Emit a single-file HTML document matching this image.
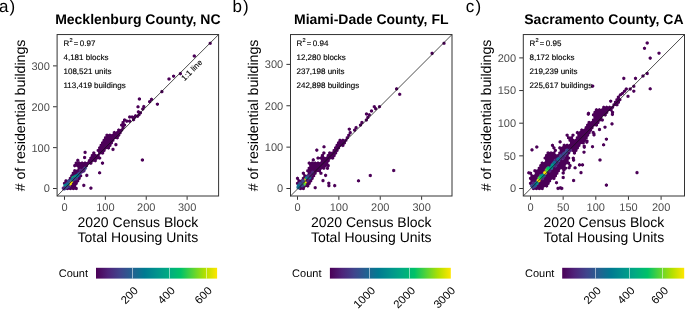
<!DOCTYPE html><html><head><meta charset="utf-8"><style>html,body{margin:0;padding:0;background:#fff;width:685px;height:309px;overflow:hidden}svg{display:block;will-change:transform}text{font-family:"Liberation Sans", sans-serif;text-rendering:geometricPrecision}</style></head><body>
<svg width="685" height="309" viewBox="0 0 685 309">
<defs>
<linearGradient id="g0" x1="0" x2="1" y1="0" y2="0">
<stop offset="0.00" stop-color="#4b0057"/>
<stop offset="0.10" stop-color="#4e237a"/>
<stop offset="0.20" stop-color="#40448c"/>
<stop offset="0.30" stop-color="#246191"/>
<stop offset="0.40" stop-color="#007a91"/>
<stop offset="0.50" stop-color="#00938d"/>
<stop offset="0.60" stop-color="#00ab82"/>
<stop offset="0.70" stop-color="#00c268"/>
<stop offset="0.80" stop-color="#57d436"/>
<stop offset="0.90" stop-color="#b2e000"/>
<stop offset="1.00" stop-color="#ffe600"/>
</linearGradient>
<linearGradient id="g1" x1="0" x2="1" y1="0" y2="0">
<stop offset="0.00" stop-color="#4b0057"/>
<stop offset="0.10" stop-color="#4e237a"/>
<stop offset="0.20" stop-color="#40448c"/>
<stop offset="0.30" stop-color="#246191"/>
<stop offset="0.40" stop-color="#007a91"/>
<stop offset="0.50" stop-color="#00938d"/>
<stop offset="0.60" stop-color="#00ab82"/>
<stop offset="0.70" stop-color="#00c268"/>
<stop offset="0.80" stop-color="#57d436"/>
<stop offset="0.90" stop-color="#b2e000"/>
<stop offset="1.00" stop-color="#ffe600"/>
</linearGradient>
<linearGradient id="g2" x1="0" x2="1" y1="0" y2="0">
<stop offset="0.00" stop-color="#4b0057"/>
<stop offset="0.10" stop-color="#4e237a"/>
<stop offset="0.20" stop-color="#40448c"/>
<stop offset="0.30" stop-color="#246191"/>
<stop offset="0.40" stop-color="#007a91"/>
<stop offset="0.50" stop-color="#00938d"/>
<stop offset="0.60" stop-color="#00ab82"/>
<stop offset="0.70" stop-color="#00c268"/>
<stop offset="0.80" stop-color="#57d436"/>
<stop offset="0.90" stop-color="#b2e000"/>
<stop offset="1.00" stop-color="#ffe600"/>
</linearGradient>
</defs>
<text x="-1.0" y="12" font-size="17" letter-spacing="1.1" fill="#000">a)</text>
<text x="137.85" y="23.6" font-size="14" font-weight="bold" text-anchor="middle" fill="#000">Mecklenburg County, NC</text>
<path d="M139.40,97.19L140.97,98.09L140.97,99.91L139.40,100.81L137.83,99.91L137.83,98.09ZM149.60,99.89L151.17,100.79L151.17,102.61L149.60,103.51L148.03,102.61L148.03,100.79ZM138.00,104.99L139.57,105.89L139.57,107.71L138.00,108.61L136.43,107.71L136.43,105.89ZM143.80,104.79L145.37,105.69L145.37,107.51L143.80,108.41L142.23,107.51L142.23,105.69ZM142.80,107.19L144.37,108.09L144.37,109.91L142.80,110.81L141.23,109.91L141.23,108.09ZM138.40,110.09L139.97,110.99L139.97,112.81L138.40,113.71L136.83,112.81L136.83,110.99ZM140.40,111.09L141.97,111.99L141.97,113.81L140.40,114.71L138.83,113.81L138.83,111.99ZM138.90,112.99L140.47,113.89L140.47,115.71L138.90,116.61L137.33,115.71L137.33,113.89ZM137.50,114.49L139.07,115.39L139.07,117.21L137.50,118.11L135.93,117.21L135.93,115.39ZM129.70,115.19L131.27,116.09L131.27,117.91L129.70,118.81L128.13,117.91L128.13,116.09ZM132.10,115.19L133.67,116.09L133.67,117.91L132.10,118.81L130.53,117.91L130.53,116.09ZM134.60,115.59L136.17,116.49L136.17,118.31L134.60,119.21L133.03,118.31L133.03,116.49ZM135.50,113.99L137.07,114.89L137.07,116.71L135.50,117.61L133.93,116.71L133.93,114.89ZM133.60,117.89L135.17,118.79L135.17,120.61L133.60,121.51L132.03,120.61L132.03,118.79ZM126.80,119.29L128.37,120.19L128.37,122.01L126.80,122.91L125.23,122.01L125.23,120.19ZM129.70,119.29L131.27,120.19L131.27,122.01L129.70,122.91L128.13,122.01L128.13,120.19ZM115.90,142.79L117.47,143.69L117.47,145.51L115.90,146.41L114.33,145.51L114.33,143.69ZM85.10,150.59L86.67,151.49L86.67,153.31L85.10,154.21L83.53,153.31L83.53,151.49ZM84.60,155.69L86.17,156.59L86.17,158.41L84.60,159.31L83.03,158.41L83.03,156.59ZM77.80,158.59L79.37,159.49L79.37,161.31L77.80,162.21L76.23,161.31L76.23,159.49ZM83.80,183.59L85.37,184.49L85.37,186.31L83.80,187.21L82.23,186.31L82.23,184.49ZM90.90,186.29L92.47,187.19L92.47,189.01L90.90,189.91L89.33,189.01L89.33,187.19ZM113.00,147.59L114.57,148.49L114.57,150.31L113.00,151.21L111.43,150.31L111.43,148.49ZM142.40,158.19L143.97,159.09L143.97,160.91L142.40,161.81L140.83,160.91L140.83,159.09ZM151.50,97.49L153.07,98.39L153.07,100.21L151.50,101.11L149.93,100.21L149.93,98.39ZM157.40,102.39L158.97,103.29L158.97,105.11L157.40,106.01L155.83,105.11L155.83,103.29ZM161.90,89.79L163.47,90.69L163.47,92.51L161.90,93.41L160.33,92.51L160.33,90.69ZM169.00,77.19L170.57,78.09L170.57,79.91L169.00,80.81L167.43,79.91L167.43,78.09ZM173.60,74.39L175.17,75.29L175.17,77.11L173.60,78.01L172.03,77.11L172.03,75.29ZM180.40,71.79L181.97,72.69L181.97,74.51L180.40,75.41L178.83,74.51L178.83,72.69ZM194.30,54.19L195.87,55.09L195.87,56.91L194.30,57.81L192.73,56.91L192.73,55.09ZM210.20,41.49L211.77,42.39L211.77,44.21L210.20,45.11L208.63,44.21L208.63,42.39ZM102.50,161.29L104.07,162.19L104.07,164.01L102.50,164.91L100.93,164.01L100.93,162.19ZM99.60,170.99L101.17,171.89L101.17,173.71L99.60,174.61L98.03,173.71L98.03,171.89ZM86.80,173.59L88.37,174.49L88.37,176.31L86.80,177.21L85.23,176.31L85.23,174.49Z" fill="#4b0057"/>
<path d="M64.50,186.69L66.07,187.59L66.07,189.41L64.50,190.31L62.93,189.41L62.93,187.59ZM70.36,181.62L71.93,182.52L71.93,184.33L70.36,185.24L68.79,184.33L68.79,182.52ZM71.83,179.08L73.39,179.98L73.39,181.79L71.83,182.70L70.26,181.79L70.26,179.98ZM77.69,174.00L79.25,174.91L79.25,176.72L77.69,177.62L76.12,176.72L76.12,174.91ZM79.15,171.47L80.72,172.37L80.72,174.18L79.15,175.09L77.58,174.18L77.58,172.37ZM85.01,166.39L86.58,167.30L86.58,169.11L85.01,170.01L83.44,169.11L83.44,167.30Z" fill="#3b4a8e" stroke="#3b4a8e" stroke-width="0.6"/>
<path d="M67.43,186.69L69.00,187.59L69.00,189.41L67.43,190.31L65.86,189.41L65.86,187.59ZM70.36,186.69L71.93,187.59L71.93,189.41L70.36,190.31L68.79,189.41L68.79,187.59ZM73.29,186.69L74.86,187.59L74.86,189.41L73.29,190.31L71.72,189.41L71.72,187.59ZM76.22,186.69L77.79,187.59L77.79,189.41L76.22,190.31L74.65,189.41L74.65,187.59ZM71.83,184.15L73.39,185.06L73.39,186.87L71.83,187.77L70.26,186.87L70.26,185.06ZM74.76,184.15L76.32,185.06L76.32,186.87L74.76,187.77L73.19,186.87L73.19,185.06ZM64.50,181.62L66.07,182.52L66.07,184.33L64.50,185.24L62.93,184.33L62.93,182.52ZM73.29,181.62L74.86,182.52L74.86,184.33L73.29,185.24L71.72,184.33L71.72,182.52ZM76.22,181.62L77.79,182.52L77.79,184.33L76.22,185.24L74.65,184.33L74.65,182.52ZM65.97,179.08L67.53,179.98L67.53,181.79L65.97,182.70L64.40,181.79L64.40,179.98ZM68.90,179.08L70.46,179.98L70.46,181.79L68.90,182.70L67.33,181.79L67.33,179.98ZM74.76,179.08L76.32,179.98L76.32,181.79L74.76,182.70L73.19,181.79L73.19,179.98ZM77.69,179.08L79.25,179.98L79.25,181.79L77.69,182.70L76.12,181.79L76.12,179.98ZM70.36,176.54L71.93,177.45L71.93,179.26L70.36,180.16L68.79,179.26L68.79,177.45ZM79.15,176.54L80.72,177.45L80.72,179.26L79.15,180.16L77.58,179.26L77.58,177.45ZM71.83,174.00L73.39,174.91L73.39,176.72L71.83,177.62L70.26,176.72L70.26,174.91ZM74.76,174.00L76.32,174.91L76.32,176.72L74.76,177.62L73.19,176.72L73.19,174.91ZM80.62,174.00L82.18,174.91L82.18,176.72L80.62,177.62L79.05,176.72L79.05,174.91ZM73.29,171.47L74.86,172.37L74.86,174.18L73.29,175.09L71.72,174.18L71.72,172.37ZM76.22,171.47L77.79,172.37L77.79,174.18L76.22,175.09L74.65,174.18L74.65,172.37ZM74.76,168.93L76.32,169.83L76.32,171.64L74.76,172.55L73.19,171.64L73.19,169.83ZM77.69,168.93L79.25,169.83L79.25,171.64L77.69,172.55L76.12,171.64L76.12,169.83ZM79.15,166.39L80.72,167.30L80.72,169.11L79.15,170.01L77.58,169.11L77.58,167.30ZM82.08,166.39L83.65,167.30L83.65,169.11L82.08,170.01L80.51,169.11L80.51,167.30ZM74.76,163.85L76.32,164.76L76.32,166.57L74.76,167.47L73.19,166.57L73.19,164.76ZM77.69,163.85L79.25,164.76L79.25,166.57L77.69,167.47L76.12,166.57L76.12,164.76ZM80.62,163.85L82.18,164.76L82.18,166.57L80.62,167.47L79.05,166.57L79.05,164.76ZM83.55,163.85L85.11,164.76L85.11,166.57L83.55,167.47L81.98,166.57L81.98,164.76ZM86.48,163.85L88.04,164.76L88.04,166.57L86.48,167.47L84.91,166.57L84.91,164.76ZM76.22,161.32L77.79,162.22L77.79,164.03L76.22,164.94L74.65,164.03L74.65,162.22ZM79.15,161.32L80.72,162.22L80.72,164.03L79.15,164.94L77.58,164.03L77.58,162.22ZM82.08,161.32L83.65,162.22L83.65,164.03L82.08,164.94L80.51,164.03L80.51,162.22ZM85.01,161.32L86.58,162.22L86.58,164.03L85.01,164.94L83.44,164.03L83.44,162.22ZM87.94,161.32L89.51,162.22L89.51,164.03L87.94,164.94L86.37,164.03L86.37,162.22ZM90.87,161.32L92.44,162.22L92.44,164.03L90.87,164.94L89.30,164.03L89.30,162.22ZM89.41,158.78L90.97,159.68L90.97,161.49L89.41,162.40L87.84,161.49L87.84,159.68ZM92.34,158.78L93.90,159.68L93.90,161.49L92.34,162.40L90.77,161.49L90.77,159.68ZM95.27,158.78L96.83,159.68L96.83,161.49L95.27,162.40L93.70,161.49L93.70,159.68ZM90.87,156.24L92.44,157.15L92.44,158.96L90.87,159.86L89.30,158.96L89.30,157.15ZM93.80,156.24L95.37,157.15L95.37,158.96L93.80,159.86L92.23,158.96L92.23,157.15ZM96.73,156.24L98.30,157.15L98.30,158.96L96.73,159.86L95.16,158.96L95.16,157.15ZM99.66,156.24L101.23,157.15L101.23,158.96L99.66,159.86L98.09,158.96L98.09,157.15ZM92.34,153.70L93.90,154.61L93.90,156.42L92.34,157.32L90.77,156.42L90.77,154.61ZM95.27,153.70L96.83,154.61L96.83,156.42L95.27,157.32L93.70,156.42L93.70,154.61ZM98.20,153.70L99.76,154.61L99.76,156.42L98.20,157.32L96.63,156.42L96.63,154.61ZM93.80,151.17L95.37,152.07L95.37,153.88L93.80,154.79L92.23,153.88L92.23,152.07ZM99.66,151.17L101.23,152.07L101.23,153.88L99.66,154.79L98.09,153.88L98.09,152.07ZM102.59,151.17L104.16,152.07L104.16,153.88L102.59,154.79L101.02,153.88L101.02,152.07ZM98.20,148.63L99.76,149.53L99.76,151.34L98.20,152.25L96.63,151.34L96.63,149.53ZM101.12,148.63L102.69,149.53L102.69,151.34L101.12,152.25L99.56,151.34L99.56,149.53ZM104.06,148.63L105.62,149.53L105.62,151.34L104.06,152.25L102.49,151.34L102.49,149.53ZM99.66,146.09L101.23,147.00L101.23,148.81L99.66,149.71L98.09,148.81L98.09,147.00ZM102.59,146.09L104.16,147.00L104.16,148.81L102.59,149.71L101.02,148.81L101.02,147.00ZM105.52,146.09L107.09,147.00L107.09,148.81L105.52,149.71L103.95,148.81L103.95,147.00ZM108.45,146.09L110.02,147.00L110.02,148.81L108.45,149.71L106.88,148.81L106.88,147.00ZM101.12,143.55L102.69,144.46L102.69,146.27L101.12,147.17L99.56,146.27L99.56,144.46ZM104.06,143.55L105.62,144.46L105.62,146.27L104.06,147.17L102.49,146.27L102.49,144.46ZM106.99,143.55L108.55,144.46L108.55,146.27L106.99,147.17L105.42,146.27L105.42,144.46ZM109.92,143.55L111.48,144.46L111.48,146.27L109.92,147.17L108.35,146.27L108.35,144.46ZM102.59,141.02L104.16,141.92L104.16,143.73L102.59,144.64L101.02,143.73L101.02,141.92ZM105.52,141.02L107.09,141.92L107.09,143.73L105.52,144.64L103.95,143.73L103.95,141.92ZM108.45,141.02L110.02,141.92L110.02,143.73L108.45,144.64L106.88,143.73L106.88,141.92ZM111.38,141.02L112.95,141.92L112.95,143.73L111.38,144.64L109.81,143.73L109.81,141.92ZM104.06,138.48L105.62,139.38L105.62,141.19L104.06,142.10L102.49,141.19L102.49,139.38ZM106.99,138.48L108.55,139.38L108.55,141.19L106.99,142.10L105.42,141.19L105.42,139.38ZM109.92,138.48L111.48,139.38L111.48,141.19L109.92,142.10L108.35,141.19L108.35,139.38ZM112.84,138.48L114.41,139.38L114.41,141.19L112.84,142.10L111.28,141.19L111.28,139.38ZM105.52,135.94L107.09,136.85L107.09,138.66L105.52,139.56L103.95,138.66L103.95,136.85ZM108.45,135.94L110.02,136.85L110.02,138.66L108.45,139.56L106.88,138.66L106.88,136.85ZM111.38,135.94L112.95,136.85L112.95,138.66L111.38,139.56L109.81,138.66L109.81,136.85ZM114.31,135.94L115.88,136.85L115.88,138.66L114.31,139.56L112.74,138.66L112.74,136.85ZM117.24,135.94L118.81,136.85L118.81,138.66L117.24,139.56L115.67,138.66L115.67,136.85ZM106.99,133.40L108.55,134.31L108.55,136.12L106.99,137.02L105.42,136.12L105.42,134.31ZM109.92,133.40L111.48,134.31L111.48,136.12L109.92,137.02L108.35,136.12L108.35,134.31ZM112.84,133.40L114.41,134.31L114.41,136.12L112.84,137.02L111.28,136.12L111.28,134.31ZM115.78,133.40L117.34,134.31L117.34,136.12L115.78,137.02L114.21,136.12L114.21,134.31ZM118.71,133.40L120.27,134.31L120.27,136.12L118.71,137.02L117.14,136.12L117.14,134.31ZM114.31,130.87L115.88,131.77L115.88,133.58L114.31,134.49L112.74,133.58L112.74,131.77ZM117.24,130.87L118.81,131.77L118.81,133.58L117.24,134.49L115.67,133.58L115.67,131.77ZM120.17,130.87L121.74,131.77L121.74,133.58L120.17,134.49L118.60,133.58L118.60,131.77ZM118.71,128.33L120.27,129.23L120.27,131.04L118.71,131.95L117.14,131.04L117.14,129.23ZM121.64,128.33L123.20,129.23L123.20,131.04L121.64,131.95L120.07,131.04L120.07,129.23ZM123.10,125.79L124.67,126.70L124.67,128.51L123.10,129.41L121.53,128.51L121.53,126.70ZM121.64,123.25L123.20,124.16L123.20,125.97L121.64,126.87L120.07,125.97L120.07,124.16ZM124.56,123.25L126.13,124.16L126.13,125.97L124.56,126.87L123.00,125.97L123.00,124.16ZM123.10,120.72L124.67,121.62L124.67,123.43L123.10,124.34L121.53,123.43L121.53,121.62ZM124.56,118.18L126.13,119.08L126.13,120.89L124.56,121.80L123.00,120.89L123.00,119.08Z" fill="#4b0057"/>
<path d="M65.97,184.15L67.53,185.06L67.53,186.87L65.97,187.77L64.40,186.87L64.40,185.06ZM68.90,184.15L70.46,185.06L70.46,186.87L68.90,187.77L67.33,186.87L67.33,185.06ZM67.43,181.62L69.00,182.52L69.00,184.33L67.43,185.24L65.86,184.33L65.86,182.52ZM73.29,176.54L74.86,177.45L74.86,179.26L73.29,180.16L71.72,179.26L71.72,177.45ZM76.22,176.54L77.79,177.45L77.79,179.26L76.22,180.16L74.65,179.26L74.65,177.45ZM80.62,168.93L82.18,169.83L82.18,171.64L80.62,172.55L79.05,171.64L79.05,169.83ZM83.55,168.93L85.11,169.83L85.11,171.64L83.55,172.55L81.98,171.64L81.98,169.83Z" fill="#4e2279" stroke="#4e2279" stroke-width="0.6"/>
<path d="M71.10,179.69L72.67,180.59L72.67,182.41L71.10,183.31L69.53,182.41L69.53,180.59Z" fill="#ffe600" stroke="#ffe600" stroke-width="0.5"/>
<path d="M70.00,181.79L71.57,182.69L71.57,184.51L70.00,185.41L68.43,184.51L68.43,182.69Z" fill="#ffe600" stroke="#ffe600" stroke-width="0.5"/>
<path d="M73.20,175.99L74.77,176.89L74.77,178.71L73.20,179.61L71.63,178.71L71.63,176.89Z" fill="#00c268" stroke="#00c268" stroke-width="0.5"/>
<path d="M75.30,174.79L76.87,175.69L76.87,177.51L75.30,178.41L73.73,177.51L73.73,175.69Z" fill="#00948d" stroke="#00948d" stroke-width="0.5"/>
<path d="M77.60,173.59L79.17,174.49L79.17,176.31L77.60,177.21L76.03,176.31L76.03,174.49Z" fill="#007a91" stroke="#007a91" stroke-width="0.5"/>
<path d="M65.30,183.79L66.87,184.69L66.87,186.51L65.30,187.41L63.73,186.51L63.73,184.69Z" fill="#00948d" stroke="#00948d" stroke-width="0.5"/>
<path d="M67.70,182.29L69.27,183.19L69.27,185.01L67.70,185.91L66.13,185.01L66.13,183.19Z" fill="#136a92" stroke="#136a92" stroke-width="0.5"/>
<path d="M68.90,179.39L70.47,180.29L70.47,182.11L68.90,183.01L67.33,182.11L67.33,180.29Z" fill="#3b4a8e" stroke="#3b4a8e" stroke-width="0.5"/>
<path d="M72.20,177.79L73.77,178.69L73.77,180.51L72.20,181.41L70.63,180.51L70.63,178.69Z" fill="#136a92" stroke="#136a92" stroke-width="0.5"/>
<path d="M79.50,171.79L81.07,172.69L81.07,174.51L79.50,175.41L77.93,174.51L77.93,172.69Z" fill="#3b4a8e" stroke="#3b4a8e" stroke-width="0.5"/>
<path d="M81.50,169.99L83.07,170.89L83.07,172.71L81.50,173.61L79.93,172.71L79.93,170.89Z" fill="#4e2279" stroke="#4e2279" stroke-width="0.5"/>
<path d="M66.50,185.39L68.07,186.29L68.07,188.11L66.50,189.01L64.93,188.11L64.93,186.29Z" fill="#3b4a8e" stroke="#3b4a8e" stroke-width="0.5"/>
<path d="M63.60,186.39L65.17,187.29L65.17,189.11L63.60,190.01L62.03,189.11L62.03,187.29Z" fill="#4e2279" stroke="#4e2279" stroke-width="0.5"/>
<path d="M74.50,176.99L76.07,177.89L76.07,179.71L74.50,180.61L72.93,179.71L72.93,177.89Z" fill="#3b4a8e" stroke="#3b4a8e" stroke-width="0.5"/>
<path d="M83.50,167.99L85.07,168.89L85.07,170.71L83.50,171.61L81.93,170.71L81.93,168.89Z" fill="#4e2279" stroke="#4e2279" stroke-width="0.5"/>
<line x1="57.1" y1="196.0" x2="218.6" y2="34.55" stroke="#111" stroke-width="0.75"/>
<rect x="57.1" y="34.55" width="161.50" height="161.45" fill="none" stroke="#333" stroke-width="1"/>
<line x1="53.00" y1="188.50" x2="56.80" y2="188.50" stroke="#333" stroke-width="1"/>
<line x1="64.50" y1="196.3" x2="64.50" y2="199.8" stroke="#333" stroke-width="1"/>
<text x="49.80" y="192.40" font-size="11" fill="#4D4D4D" text-anchor="end">0</text>
<text x="64.50" y="211" font-size="11" fill="#4D4D4D" text-anchor="middle">0</text>
<line x1="53.00" y1="147.63" x2="56.80" y2="147.63" stroke="#333" stroke-width="1"/>
<line x1="105.37" y1="196.3" x2="105.37" y2="199.8" stroke="#333" stroke-width="1"/>
<text x="49.80" y="151.53" font-size="11" fill="#4D4D4D" text-anchor="end">100</text>
<text x="105.37" y="211" font-size="11" fill="#4D4D4D" text-anchor="middle">100</text>
<line x1="53.00" y1="106.76" x2="56.80" y2="106.76" stroke="#333" stroke-width="1"/>
<line x1="146.24" y1="196.3" x2="146.24" y2="199.8" stroke="#333" stroke-width="1"/>
<text x="49.80" y="110.66" font-size="11" fill="#4D4D4D" text-anchor="end">200</text>
<text x="146.24" y="211" font-size="11" fill="#4D4D4D" text-anchor="middle">200</text>
<line x1="53.00" y1="65.89" x2="56.80" y2="65.89" stroke="#333" stroke-width="1"/>
<line x1="187.11" y1="196.3" x2="187.11" y2="199.8" stroke="#333" stroke-width="1"/>
<text x="49.80" y="69.79" font-size="11" fill="#4D4D4D" text-anchor="end">300</text>
<text x="187.11" y="211" font-size="11" fill="#4D4D4D" text-anchor="middle">300</text>
<text x="137.85" y="227.4" font-size="14" text-anchor="middle" fill="#000">2020 Census Block</text>
<text x="137.85" y="242.1" font-size="14" text-anchor="middle" fill="#000">Total Housing Units</text>
<text transform="translate(24.70,115.48) rotate(-90)" x="0" y="0" font-size="14.15" text-anchor="middle" fill="#000"># of residential buildings</text>
<text x="63.5" y="45.5" font-size="8" fill="#000" stroke="#000" stroke-width="0.15">R<tspan x="69.40" font-size="5.6" dy="-3.6">2</tspan><tspan x="73.80" dy="3.6" font-size="7.6">=</tspan><tspan x="79.80">0.97</tspan></text>
<text x="63.5" y="59.75" font-size="8" fill="#000" stroke="#000" stroke-width="0.15">4,181 blocks</text>
<text x="63.5" y="74.0" font-size="8" fill="#000" stroke="#000" stroke-width="0.15">108,521 units</text>
<text x="63.5" y="88.25" font-size="8" fill="#000" stroke="#000" stroke-width="0.15">113,419 buildings</text>
<text transform="translate(184.6,81.2) rotate(-45)" font-size="8" fill="#000" stroke="#000" stroke-width="0.12">1:1 line</text>
<text x="58.7" y="276.7" font-size="11" fill="#000">Count</text>
<rect x="96" y="267.8" width="121.10" height="10.8" fill="url(#g0)"/>
<line x1="132.50" y1="267.8" x2="132.50" y2="278.6" stroke="#fff" stroke-width="0.9" opacity="0.6"/>
<text transform="translate(138.74,291.3) rotate(-45)" font-size="11.3" fill="#000" text-anchor="end">200</text>
<line x1="169.50" y1="267.8" x2="169.50" y2="278.6" stroke="#fff" stroke-width="0.9" opacity="0.6"/>
<text transform="translate(175.66,291.3) rotate(-45)" font-size="11.3" fill="#000" text-anchor="end">400</text>
<line x1="206.50" y1="267.8" x2="206.50" y2="278.6" stroke="#fff" stroke-width="0.9" opacity="0.6"/>
<text transform="translate(212.58,291.3) rotate(-45)" font-size="11.3" fill="#000" text-anchor="end">600</text>
<text x="232.4" y="12" font-size="17" letter-spacing="1.1" fill="#000">b)</text>
<text x="371.25" y="23.6" font-size="14" font-weight="bold" text-anchor="middle" fill="#000">Miami-Dade County, FL</text>
<path d="M313.30,158.09L314.87,158.99L314.87,160.81L313.30,161.71L311.73,160.81L311.73,158.99ZM324.00,144.99L325.57,145.89L325.57,147.71L324.00,148.61L322.43,147.71L322.43,145.89ZM316.80,148.29L318.37,149.19L318.37,151.01L316.80,151.91L315.23,151.01L315.23,149.19ZM327.50,166.49L329.07,167.39L329.07,169.21L327.50,170.11L325.93,169.21L325.93,167.39ZM323.00,178.79L324.57,179.69L324.57,181.51L323.00,182.41L321.43,181.51L321.43,179.69ZM325.60,173.59L327.17,174.49L327.17,176.31L325.60,177.21L324.03,176.31L324.03,174.49ZM328.80,181.39L330.37,182.29L330.37,184.11L328.80,185.01L327.23,184.11L327.23,182.29ZM315.20,185.89L316.77,186.79L316.77,188.61L315.20,189.51L313.63,188.61L313.63,186.79ZM328.90,183.79L330.47,184.69L330.47,186.51L328.90,187.41L327.33,186.51L327.33,184.69ZM334.70,183.79L336.27,184.69L336.27,186.51L334.70,187.41L333.13,186.51L333.13,184.69ZM358.50,178.99L360.07,179.89L360.07,181.71L358.50,182.61L356.93,181.71L356.93,179.89ZM370.30,173.69L371.87,174.59L371.87,176.41L370.30,177.31L368.73,176.41L368.73,174.59ZM393.70,168.69L395.27,169.59L395.27,171.41L393.70,172.31L392.13,171.41L392.13,169.59ZM349.30,127.39L350.87,128.29L350.87,130.11L349.30,131.01L347.73,130.11L347.73,128.29ZM374.30,104.89L375.87,105.79L375.87,107.61L374.30,108.51L372.73,107.61L372.73,105.79ZM375.60,106.79L377.17,107.69L377.17,109.51L375.60,110.41L374.03,109.51L374.03,107.69ZM379.50,104.89L381.07,105.79L381.07,107.61L379.50,108.51L377.93,107.61L377.93,105.79ZM396.60,87.09L398.17,87.99L398.17,89.81L396.60,90.71L395.03,89.81L395.03,87.99ZM399.70,92.49L401.27,93.39L401.27,95.21L399.70,96.11L398.13,95.21L398.13,93.39ZM432.10,51.59L433.67,52.49L433.67,54.31L432.10,55.21L430.53,54.31L430.53,52.49ZM444.00,41.49L445.57,42.39L445.57,44.21L444.00,45.11L442.43,44.21L442.43,42.39ZM366.50,112.19L368.07,113.09L368.07,114.91L366.50,115.81L364.93,114.91L364.93,113.09ZM371.50,109.19L373.07,110.09L373.07,111.91L371.50,112.81L369.93,111.91L369.93,110.09Z" fill="#4b0057"/>
<path d="M300.43,186.69L302.00,187.59L302.00,189.41L300.43,190.31L298.86,189.41L298.86,187.59ZM303.36,186.69L304.93,187.59L304.93,189.41L303.36,190.31L301.79,189.41L301.79,187.59ZM298.96,184.15L300.53,185.06L300.53,186.87L298.96,187.77L297.40,186.87L297.40,185.06ZM301.89,184.15L303.46,185.06L303.46,186.87L301.89,187.77L300.33,186.87L300.33,185.06ZM304.82,184.15L306.39,185.06L306.39,186.87L304.82,187.77L303.26,186.87L303.26,185.06ZM307.75,184.15L309.32,185.06L309.32,186.87L307.75,187.77L306.19,186.87L306.19,185.06ZM297.50,181.62L299.07,182.52L299.07,184.33L297.50,185.24L295.93,184.33L295.93,182.52ZM300.43,181.62L302.00,182.52L302.00,184.33L300.43,185.24L298.86,184.33L298.86,182.52ZM303.36,181.62L304.93,182.52L304.93,184.33L303.36,185.24L301.79,184.33L301.79,182.52ZM306.29,181.62L307.86,182.52L307.86,184.33L306.29,185.24L304.72,184.33L304.72,182.52ZM309.22,181.62L310.79,182.52L310.79,184.33L309.22,185.24L307.65,184.33L307.65,182.52ZM298.96,179.08L300.53,179.98L300.53,181.79L298.96,182.70L297.40,181.79L297.40,179.98ZM301.89,179.08L303.46,179.98L303.46,181.79L301.89,182.70L300.33,181.79L300.33,179.98ZM304.82,179.08L306.39,179.98L306.39,181.79L304.82,182.70L303.26,181.79L303.26,179.98ZM307.75,179.08L309.32,179.98L309.32,181.79L307.75,182.70L306.19,181.79L306.19,179.98ZM310.69,179.08L312.25,179.98L312.25,181.79L310.69,182.70L309.12,181.79L309.12,179.98ZM297.50,176.54L299.07,177.45L299.07,179.26L297.50,180.16L295.93,179.26L295.93,177.45ZM303.36,176.54L304.93,177.45L304.93,179.26L303.36,180.16L301.79,179.26L301.79,177.45ZM306.29,176.54L307.86,177.45L307.86,179.26L306.29,180.16L304.72,179.26L304.72,177.45ZM309.22,176.54L310.79,177.45L310.79,179.26L309.22,180.16L307.65,179.26L307.65,177.45ZM312.15,176.54L313.72,177.45L313.72,179.26L312.15,180.16L310.58,179.26L310.58,177.45ZM304.82,174.00L306.39,174.91L306.39,176.72L304.82,177.62L303.26,176.72L303.26,174.91ZM307.75,174.00L309.32,174.91L309.32,176.72L307.75,177.62L306.19,176.72L306.19,174.91ZM310.69,174.00L312.25,174.91L312.25,176.72L310.69,177.62L309.12,176.72L309.12,174.91ZM313.61,174.00L315.18,174.91L315.18,176.72L313.61,177.62L312.05,176.72L312.05,174.91ZM303.36,171.47L304.93,172.37L304.93,174.18L303.36,175.09L301.79,174.18L301.79,172.37ZM309.22,171.47L310.79,172.37L310.79,174.18L309.22,175.09L307.65,174.18L307.65,172.37ZM312.15,171.47L313.72,172.37L313.72,174.18L312.15,175.09L310.58,174.18L310.58,172.37ZM315.08,171.47L316.65,172.37L316.65,174.18L315.08,175.09L313.51,174.18L313.51,172.37ZM320.94,171.47L322.51,172.37L322.51,174.18L320.94,175.09L319.37,174.18L319.37,172.37ZM307.75,168.93L309.32,169.83L309.32,171.64L307.75,172.55L306.19,171.64L306.19,169.83ZM310.69,168.93L312.25,169.83L312.25,171.64L310.69,172.55L309.12,171.64L309.12,169.83ZM313.61,168.93L315.18,169.83L315.18,171.64L313.61,172.55L312.05,171.64L312.05,169.83ZM316.54,168.93L318.11,169.83L318.11,171.64L316.54,172.55L314.98,171.64L314.98,169.83ZM319.47,168.93L321.04,169.83L321.04,171.64L319.47,172.55L317.91,171.64L317.91,169.83ZM309.22,166.39L310.79,167.30L310.79,169.11L309.22,170.01L307.65,169.11L307.65,167.30ZM312.15,166.39L313.72,167.30L313.72,169.11L312.15,170.01L310.58,169.11L310.58,167.30ZM315.08,166.39L316.65,167.30L316.65,169.11L315.08,170.01L313.51,169.11L313.51,167.30ZM318.01,166.39L319.58,167.30L319.58,169.11L318.01,170.01L316.44,169.11L316.44,167.30ZM320.94,166.39L322.51,167.30L322.51,169.11L320.94,170.01L319.37,169.11L319.37,167.30ZM323.87,166.39L325.44,167.30L325.44,169.11L323.87,170.01L322.30,169.11L322.30,167.30ZM310.69,163.85L312.25,164.76L312.25,166.57L310.69,167.47L309.12,166.57L309.12,164.76ZM313.61,163.85L315.18,164.76L315.18,166.57L313.61,167.47L312.05,166.57L312.05,164.76ZM316.54,163.85L318.11,164.76L318.11,166.57L316.54,167.47L314.98,166.57L314.98,164.76ZM319.47,163.85L321.04,164.76L321.04,166.57L319.47,167.47L317.91,166.57L317.91,164.76ZM322.40,163.85L323.97,164.76L323.97,166.57L322.40,167.47L320.84,166.57L320.84,164.76ZM325.33,163.85L326.90,164.76L326.90,166.57L325.33,167.47L323.77,166.57L323.77,164.76ZM328.26,163.85L329.83,164.76L329.83,166.57L328.26,167.47L326.70,166.57L326.70,164.76ZM309.22,161.32L310.79,162.22L310.79,164.03L309.22,164.94L307.65,164.03L307.65,162.22ZM312.15,161.32L313.72,162.22L313.72,164.03L312.15,164.94L310.58,164.03L310.58,162.22ZM315.08,161.32L316.65,162.22L316.65,164.03L315.08,164.94L313.51,164.03L313.51,162.22ZM318.01,161.32L319.58,162.22L319.58,164.03L318.01,164.94L316.44,164.03L316.44,162.22ZM320.94,161.32L322.51,162.22L322.51,164.03L320.94,164.94L319.37,164.03L319.37,162.22ZM323.87,161.32L325.44,162.22L325.44,164.03L323.87,164.94L322.30,164.03L322.30,162.22ZM326.80,161.32L328.37,162.22L328.37,164.03L326.80,164.94L325.23,164.03L325.23,162.22ZM322.40,158.78L323.97,159.68L323.97,161.49L322.40,162.40L320.84,161.49L320.84,159.68ZM325.33,158.78L326.90,159.68L326.90,161.49L325.33,162.40L323.77,161.49L323.77,159.68ZM328.26,158.78L329.83,159.68L329.83,161.49L328.26,162.40L326.70,161.49L326.70,159.68ZM318.01,156.24L319.58,157.15L319.58,158.96L318.01,159.86L316.44,158.96L316.44,157.15ZM320.94,156.24L322.51,157.15L322.51,158.96L320.94,159.86L319.37,158.96L319.37,157.15ZM323.87,156.24L325.44,157.15L325.44,158.96L323.87,159.86L322.30,158.96L322.30,157.15ZM326.80,156.24L328.37,157.15L328.37,158.96L326.80,159.86L325.23,158.96L325.23,157.15ZM329.73,156.24L331.30,157.15L331.30,158.96L329.73,159.86L328.16,158.96L328.16,157.15ZM332.66,156.24L334.23,157.15L334.23,158.96L332.66,159.86L331.09,158.96L331.09,157.15ZM322.40,153.70L323.97,154.61L323.97,156.42L322.40,157.32L320.84,156.42L320.84,154.61ZM328.26,153.70L329.83,154.61L329.83,156.42L328.26,157.32L326.70,156.42L326.70,154.61ZM331.19,153.70L332.76,154.61L332.76,156.42L331.19,157.32L329.63,156.42L329.63,154.61ZM334.12,153.70L335.69,154.61L335.69,156.42L334.12,157.32L332.56,156.42L332.56,154.61ZM323.87,151.17L325.44,152.07L325.44,153.88L323.87,154.79L322.30,153.88L322.30,152.07ZM329.73,151.17L331.30,152.07L331.30,153.88L329.73,154.79L328.16,153.88L328.16,152.07ZM332.66,151.17L334.23,152.07L334.23,153.88L332.66,154.79L331.09,153.88L331.09,152.07ZM335.59,151.17L337.16,152.07L337.16,153.88L335.59,154.79L334.02,153.88L334.02,152.07ZM334.12,148.63L335.69,149.53L335.69,151.34L334.12,152.25L332.56,151.34L332.56,149.53ZM337.06,148.63L338.62,149.53L338.62,151.34L337.06,152.25L335.49,151.34L335.49,149.53ZM335.59,146.09L337.16,147.00L337.16,148.81L335.59,149.71L334.02,148.81L334.02,147.00ZM338.52,146.09L340.09,147.00L340.09,148.81L338.52,149.71L336.95,148.81L336.95,147.00ZM337.06,143.55L338.62,144.46L338.62,146.27L337.06,147.17L335.49,146.27L335.49,144.46ZM339.98,143.55L341.55,144.46L341.55,146.27L339.98,147.17L338.42,146.27L338.42,144.46ZM342.91,143.55L344.48,144.46L344.48,146.27L342.91,147.17L341.35,146.27L341.35,144.46ZM338.52,141.02L340.09,141.92L340.09,143.73L338.52,144.64L336.95,143.73L336.95,141.92ZM341.45,141.02L343.02,141.92L343.02,143.73L341.45,144.64L339.88,143.73L339.88,141.92ZM344.38,141.02L345.95,141.92L345.95,143.73L344.38,144.64L342.81,143.73L342.81,141.92ZM339.98,138.48L341.55,139.38L341.55,141.19L339.98,142.10L338.42,141.19L338.42,139.38ZM342.91,138.48L344.48,139.38L344.48,141.19L342.91,142.10L341.35,141.19L341.35,139.38ZM345.84,138.48L347.41,139.38L347.41,141.19L345.84,142.10L344.28,141.19L344.28,139.38ZM347.31,135.94L348.88,136.85L348.88,138.66L347.31,139.56L345.74,138.66L345.74,136.85ZM348.77,133.40L350.34,134.31L350.34,136.12L348.77,137.02L347.21,136.12L347.21,134.31ZM350.24,130.87L351.81,131.77L351.81,133.58L350.24,134.49L348.67,133.58L348.67,131.77ZM354.63,128.33L356.20,129.23L356.20,131.04L354.63,131.95L353.07,131.04L353.07,129.23ZM356.10,125.79L357.67,126.70L357.67,128.51L356.10,129.41L354.53,128.51L354.53,126.70ZM360.49,123.25L362.06,124.16L362.06,125.97L360.49,126.87L358.93,125.97L358.93,124.16ZM361.96,120.72L363.53,121.62L363.53,123.43L361.96,124.34L360.39,123.43L360.39,121.62ZM366.35,118.18L367.92,119.08L367.92,120.89L366.35,121.80L364.79,120.89L364.79,119.08ZM367.82,115.64L369.39,116.55L369.39,118.36L367.82,119.26L366.25,118.36L366.25,116.55ZM369.28,113.10L370.85,114.01L370.85,115.82L369.28,116.72L367.72,115.82L367.72,114.01Z" fill="#4b0057"/>
<path d="M306.00,177.79L307.57,178.69L307.57,180.51L306.00,181.41L304.43,180.51L304.43,178.69Z" fill="#ffe600" stroke="#ffe600" stroke-width="0.5"/>
<path d="M305.00,180.19L306.57,181.09L306.57,182.91L305.00,183.81L303.43,182.91L303.43,181.09Z" fill="#ffe600" stroke="#ffe600" stroke-width="0.5"/>
<path d="M304.10,182.39L305.67,183.29L305.67,185.11L304.10,186.01L302.53,185.11L302.53,183.29Z" fill="#57d436" stroke="#57d436" stroke-width="0.5"/>
<path d="M306.80,175.99L308.37,176.89L308.37,178.71L306.80,179.61L305.23,178.71L305.23,176.89Z" fill="#00948d" stroke="#00948d" stroke-width="0.5"/>
<path d="M298.70,183.69L300.27,184.59L300.27,186.41L298.70,187.31L297.13,186.41L297.13,184.59Z" fill="#007a91" stroke="#007a91" stroke-width="0.5"/>
<path d="M309.50,175.99L311.07,176.89L311.07,178.71L309.50,179.61L307.93,178.71L307.93,176.89Z" fill="#136a92" stroke="#136a92" stroke-width="0.5"/>
<path d="M300.20,181.69L301.77,182.59L301.77,184.41L300.20,185.31L298.63,184.41L298.63,182.59Z" fill="#3b4a8e" stroke="#3b4a8e" stroke-width="0.5"/>
<path d="M302.20,183.69L303.77,184.59L303.77,186.41L302.20,187.31L300.63,186.41L300.63,184.59Z" fill="#3b4a8e" stroke="#3b4a8e" stroke-width="0.5"/>
<path d="M308.40,174.79L309.97,175.69L309.97,177.51L308.40,178.41L306.83,177.51L306.83,175.69Z" fill="#40448c" stroke="#40448c" stroke-width="0.5"/>
<path d="M310.70,173.39L312.27,174.29L312.27,176.11L310.70,177.01L309.13,176.11L309.13,174.29Z" fill="#4e2279" stroke="#4e2279" stroke-width="0.5"/>
<path d="M298.30,185.59L299.87,186.49L299.87,188.31L298.30,189.21L296.73,188.31L296.73,186.49Z" fill="#136a92" stroke="#136a92" stroke-width="0.5"/>
<path d="M303.00,179.19L304.57,180.09L304.57,181.91L303.00,182.81L301.43,181.91L301.43,180.09Z" fill="#40448c" stroke="#40448c" stroke-width="0.5"/>
<path d="M312.50,170.69L314.07,171.59L314.07,173.41L312.50,174.31L310.93,173.41L310.93,171.59Z" fill="#4e2279" stroke="#4e2279" stroke-width="0.5"/>
<path d="M307.50,178.69L309.07,179.59L309.07,181.41L307.50,182.31L305.93,181.41L305.93,179.59Z" fill="#4e2279" stroke="#4e2279" stroke-width="0.5"/>
<line x1="290.5" y1="196.0" x2="452.0" y2="34.55" stroke="#111" stroke-width="0.75"/>
<rect x="290.5" y="34.55" width="161.50" height="161.45" fill="none" stroke="#333" stroke-width="1"/>
<line x1="286.40" y1="188.50" x2="290.20" y2="188.50" stroke="#333" stroke-width="1"/>
<line x1="297.50" y1="196.3" x2="297.50" y2="199.8" stroke="#333" stroke-width="1"/>
<text x="283.20" y="192.40" font-size="11" fill="#4D4D4D" text-anchor="end">0</text>
<text x="297.50" y="211" font-size="11" fill="#4D4D4D" text-anchor="middle">0</text>
<line x1="286.40" y1="147.13" x2="290.20" y2="147.13" stroke="#333" stroke-width="1"/>
<line x1="338.87" y1="196.3" x2="338.87" y2="199.8" stroke="#333" stroke-width="1"/>
<text x="283.20" y="151.03" font-size="11" fill="#4D4D4D" text-anchor="end">100</text>
<text x="338.87" y="211" font-size="11" fill="#4D4D4D" text-anchor="middle">100</text>
<line x1="286.40" y1="105.76" x2="290.20" y2="105.76" stroke="#333" stroke-width="1"/>
<line x1="380.24" y1="196.3" x2="380.24" y2="199.8" stroke="#333" stroke-width="1"/>
<text x="283.20" y="109.66" font-size="11" fill="#4D4D4D" text-anchor="end">200</text>
<text x="380.24" y="211" font-size="11" fill="#4D4D4D" text-anchor="middle">200</text>
<line x1="286.40" y1="64.39" x2="290.20" y2="64.39" stroke="#333" stroke-width="1"/>
<line x1="421.61" y1="196.3" x2="421.61" y2="199.8" stroke="#333" stroke-width="1"/>
<text x="283.20" y="68.29" font-size="11" fill="#4D4D4D" text-anchor="end">300</text>
<text x="421.61" y="211" font-size="11" fill="#4D4D4D" text-anchor="middle">300</text>
<text x="371.25" y="227.4" font-size="14" text-anchor="middle" fill="#000">2020 Census Block</text>
<text x="371.25" y="242.1" font-size="14" text-anchor="middle" fill="#000">Total Housing Units</text>
<text transform="translate(258.10,115.48) rotate(-90)" x="0" y="0" font-size="14.15" text-anchor="middle" fill="#000"># of residential buildings</text>
<text x="296.5" y="45.5" font-size="8" fill="#000" stroke="#000" stroke-width="0.15">R<tspan x="302.40" font-size="5.6" dy="-3.6">2</tspan><tspan x="306.80" dy="3.6" font-size="7.6">=</tspan><tspan x="312.80">0.94</tspan></text>
<text x="296.5" y="59.75" font-size="8" fill="#000" stroke="#000" stroke-width="0.15">12,280 blocks</text>
<text x="296.5" y="74.0" font-size="8" fill="#000" stroke="#000" stroke-width="0.15">237,198 units</text>
<text x="296.5" y="88.25" font-size="8" fill="#000" stroke="#000" stroke-width="0.15">242,898 buildings</text>
<text x="292.1" y="276.7" font-size="11" fill="#000">Count</text>
<rect x="329.9" y="267.8" width="120.90" height="10.8" fill="url(#g1)"/>
<line x1="369.50" y1="267.8" x2="369.50" y2="278.6" stroke="#fff" stroke-width="0.9" opacity="0.6"/>
<text transform="translate(375.88,291.3) rotate(-45)" font-size="11.3" fill="#000" text-anchor="end">1000</text>
<line x1="409.50" y1="267.8" x2="409.50" y2="278.6" stroke="#fff" stroke-width="0.9" opacity="0.6"/>
<text transform="translate(415.90,291.3) rotate(-45)" font-size="11.3" fill="#000" text-anchor="end">2000</text>
<text transform="translate(455.92,291.3) rotate(-45)" font-size="11.3" fill="#000" text-anchor="end">3000</text>
<text x="465.8" y="12" font-size="17" letter-spacing="1.1" fill="#000">c)</text>
<text x="603.9" y="23.6" font-size="14" font-weight="bold" text-anchor="middle" fill="#000">Sacramento County, CA</text>
<path d="M532.00,148.09L533.57,148.99L533.57,150.81L532.00,151.71L530.43,150.81L530.43,148.99ZM536.80,145.19L538.37,146.09L538.37,147.91L536.80,148.81L535.23,147.91L535.23,146.09ZM560.10,140.09L561.67,140.99L561.67,142.81L560.10,143.71L558.53,142.81L558.53,140.99ZM584.00,150.39L585.57,151.29L585.57,153.11L584.00,154.01L582.43,153.11L582.43,151.29ZM573.60,158.29L575.17,159.19L575.17,161.01L573.60,161.91L572.03,161.01L572.03,159.19ZM569.10,165.99L570.67,166.89L570.67,168.71L569.10,169.61L567.53,168.71L567.53,166.89ZM575.10,165.99L576.67,166.89L576.67,168.71L575.10,169.61L573.53,168.71L573.53,166.89ZM579.50,163.09L581.07,163.99L581.07,165.81L579.50,166.71L577.93,165.81L577.93,163.99ZM582.50,163.09L584.07,163.99L584.07,165.81L582.50,166.71L580.93,165.81L580.93,163.99ZM581.00,170.79L582.57,171.69L582.57,173.51L581.00,174.41L579.43,173.51L579.43,171.69ZM563.90,168.29L565.47,169.19L565.47,171.01L563.90,171.91L562.33,171.01L562.33,169.19ZM563.20,171.19L564.77,172.09L564.77,173.91L563.20,174.81L561.63,173.91L561.63,172.09ZM563.20,175.69L564.77,176.59L564.77,178.41L563.20,179.31L561.63,178.41L561.63,176.59ZM573.60,178.69L575.17,179.59L575.17,181.41L573.60,182.31L572.03,181.41L572.03,179.59ZM556.50,180.89L558.07,181.79L558.07,183.61L556.50,184.51L554.93,183.61L554.93,181.79ZM560.20,186.09L561.77,186.99L561.77,188.81L560.20,189.71L558.63,188.81L558.63,186.99ZM588.30,112.39L589.87,113.29L589.87,115.11L588.30,116.01L586.73,115.11L586.73,113.29ZM612.00,122.09L613.57,122.99L613.57,124.81L612.00,125.71L610.43,124.81L610.43,122.99ZM605.00,125.39L606.57,126.29L606.57,128.11L605.00,129.01L603.43,128.11L603.43,126.29ZM606.40,137.39L607.97,138.29L607.97,140.11L606.40,141.01L604.83,140.11L604.83,138.29ZM603.60,142.99L605.17,143.89L605.17,145.71L603.60,146.61L602.03,145.71L602.03,143.89ZM593.90,131.79L595.47,132.69L595.47,134.51L593.90,135.41L592.33,134.51L592.33,132.69ZM592.50,144.89L594.07,145.79L594.07,147.61L592.50,148.51L590.93,147.61L590.93,145.79ZM587.00,139.29L588.57,140.19L588.57,142.01L587.00,142.91L585.43,142.01L585.43,140.19ZM584.20,144.39L585.77,145.29L585.77,147.11L584.20,148.01L582.63,147.11L582.63,145.29ZM600.00,158.19L601.57,159.09L601.57,160.91L600.00,161.81L598.43,160.91L598.43,159.09ZM637.00,170.79L638.57,171.69L638.57,173.51L637.00,174.41L635.43,173.51L635.43,171.69ZM606.40,183.29L607.97,184.19L607.97,186.01L606.40,186.91L604.83,186.01L604.83,184.19ZM599.50,127.69L601.07,128.59L601.07,130.41L599.50,131.31L597.93,130.41L597.93,128.59ZM592.70,84.29L594.27,85.19L594.27,87.01L592.70,87.91L591.13,87.01L591.13,85.19ZM612.40,112.59L613.97,113.49L613.97,115.31L612.40,116.21L610.83,115.31L610.83,113.49ZM584.30,145.39L585.87,146.29L585.87,148.11L584.30,149.01L582.73,148.11L582.73,146.29ZM573.30,156.39L574.87,157.29L574.87,159.11L573.30,160.01L571.73,159.11L571.73,157.29ZM528.80,170.99L530.37,171.89L530.37,173.71L528.80,174.61L527.23,173.71L527.23,171.89ZM558.00,186.59L559.57,187.49L559.57,189.31L558.00,190.21L556.43,189.31L556.43,187.49ZM561.80,186.59L563.37,187.49L563.37,189.31L561.80,190.21L560.23,189.31L560.23,187.49ZM647.20,41.19L648.77,42.09L648.77,43.91L647.20,44.81L645.63,43.91L645.63,42.09ZM644.50,46.49L646.07,47.39L646.07,49.21L644.50,50.11L642.93,49.21L642.93,47.39ZM659.00,51.39L660.57,52.29L660.57,54.11L659.00,55.01L657.43,54.11L657.43,52.29ZM650.20,56.29L651.77,57.19L651.77,59.01L650.20,59.91L648.63,59.01L648.63,57.19ZM647.20,71.69L648.77,72.59L648.77,74.41L647.20,75.31L645.63,74.41L645.63,72.59ZM643.00,74.19L644.57,75.09L644.57,76.91L643.00,77.81L641.43,76.91L641.43,75.09ZM635.50,76.59L637.07,77.49L637.07,79.31L635.50,80.21L633.93,79.31L633.93,77.49ZM623.80,76.59L625.37,77.49L625.37,79.31L623.80,80.21L622.23,79.31L622.23,77.49ZM650.20,86.99L651.77,87.89L651.77,89.71L650.20,90.61L648.63,89.71L648.63,87.89ZM633.80,84.49L635.37,85.39L635.37,87.21L633.80,88.11L632.23,87.21L632.23,85.39ZM633.80,89.39L635.37,90.29L635.37,92.11L633.80,93.01L632.23,92.11L632.23,90.29ZM630.20,87.19L631.77,88.09L631.77,89.91L630.20,90.81L628.63,89.91L628.63,88.09ZM628.00,94.49L629.57,95.39L629.57,97.21L628.00,98.11L626.43,97.21L626.43,95.39ZM626.30,87.19L627.87,88.09L627.87,89.91L626.30,90.81L624.73,89.91L624.73,88.09ZM624.60,89.39L626.17,90.29L626.17,92.11L624.60,93.01L623.03,92.11L623.03,90.29ZM622.50,91.49L624.07,92.39L624.07,94.21L622.50,95.11L620.93,94.21L620.93,92.39ZM620.40,92.99L621.97,93.89L621.97,95.71L620.40,96.61L618.83,95.71L618.83,93.89ZM593.20,130.69L594.77,131.59L594.77,133.41L593.20,134.31L591.63,133.41L591.63,131.59ZM594.00,133.09L595.57,133.99L595.57,135.81L594.00,136.71L592.43,135.81L592.43,133.99ZM586.80,140.39L588.37,141.29L588.37,143.11L586.80,144.01L585.23,143.11L585.23,141.29ZM610.70,99.39L612.27,100.29L612.27,102.11L610.70,103.01L609.13,102.11L609.13,100.29ZM588.50,111.59L590.07,112.49L590.07,114.31L588.50,115.21L586.93,114.31L586.93,112.49Z" fill="#4b0057"/>
<path d="M533.43,186.69L535.00,187.59L535.00,189.41L533.43,190.31L531.86,189.41L531.86,187.59ZM536.36,186.69L537.93,187.59L537.93,189.41L536.36,190.31L534.79,189.41L534.79,187.59ZM539.29,186.69L540.86,187.59L540.86,189.41L539.29,190.31L537.72,189.41L537.72,187.59ZM542.22,186.69L543.79,187.59L543.79,189.41L542.22,190.31L540.65,189.41L540.65,187.59ZM537.83,184.15L539.39,185.06L539.39,186.87L537.83,187.77L536.26,186.87L536.26,185.06ZM540.75,184.15L542.32,185.06L542.32,186.87L540.75,187.77L539.19,186.87L539.19,185.06ZM543.69,184.15L545.25,185.06L545.25,186.87L543.69,187.77L542.12,186.87L542.12,185.06ZM546.62,184.15L548.18,185.06L548.18,186.87L546.62,187.77L545.05,186.87L545.05,185.06ZM530.50,181.62L532.07,182.52L532.07,184.33L530.50,185.24L528.93,184.33L528.93,182.52ZM539.29,181.62L540.86,182.52L540.86,184.33L539.29,185.24L537.72,184.33L537.72,182.52ZM542.22,181.62L543.79,182.52L543.79,184.33L542.22,185.24L540.65,184.33L540.65,182.52ZM545.15,181.62L546.72,182.52L546.72,184.33L545.15,185.24L543.58,184.33L543.58,182.52ZM548.08,181.62L549.65,182.52L549.65,184.33L548.08,185.24L546.51,184.33L546.51,182.52ZM531.97,179.08L533.53,179.98L533.53,181.79L531.97,182.70L530.40,181.79L530.40,179.98ZM534.89,179.08L536.46,179.98L536.46,181.79L534.89,182.70L533.33,181.79L533.33,179.98ZM540.75,179.08L542.32,179.98L542.32,181.79L540.75,182.70L539.19,181.79L539.19,179.98ZM543.69,179.08L545.25,179.98L545.25,181.79L543.69,182.70L542.12,181.79L542.12,179.98ZM546.62,179.08L548.18,179.98L548.18,181.79L546.62,182.70L545.05,181.79L545.05,179.98ZM549.55,179.08L551.11,179.98L551.11,181.79L549.55,182.70L547.98,181.79L547.98,179.98ZM530.50,176.54L532.07,177.45L532.07,179.26L530.50,180.16L528.93,179.26L528.93,177.45ZM533.43,176.54L535.00,177.45L535.00,179.26L533.43,180.16L531.86,179.26L531.86,177.45ZM536.36,176.54L537.93,177.45L537.93,179.26L536.36,180.16L534.79,179.26L534.79,177.45ZM545.15,176.54L546.72,177.45L546.72,179.26L545.15,180.16L543.58,179.26L543.58,177.45ZM548.08,176.54L549.65,177.45L549.65,179.26L548.08,180.16L546.51,179.26L546.51,177.45ZM551.01,176.54L552.58,177.45L552.58,179.26L551.01,180.16L549.44,179.26L549.44,177.45ZM553.94,176.54L555.51,177.45L555.51,179.26L553.94,180.16L552.37,179.26L552.37,177.45ZM531.97,174.00L533.53,174.91L533.53,176.72L531.97,177.62L530.40,176.72L530.40,174.91ZM534.89,174.00L536.46,174.91L536.46,176.72L534.89,177.62L533.33,176.72L533.33,174.91ZM537.83,174.00L539.39,174.91L539.39,176.72L537.83,177.62L536.26,176.72L536.26,174.91ZM546.62,174.00L548.18,174.91L548.18,176.72L546.62,177.62L545.05,176.72L545.05,174.91ZM549.55,174.00L551.11,174.91L551.11,176.72L549.55,177.62L547.98,176.72L547.98,174.91ZM552.48,174.00L554.04,174.91L554.04,176.72L552.48,177.62L550.91,176.72L550.91,174.91ZM555.41,174.00L556.97,174.91L556.97,176.72L555.41,177.62L553.84,176.72L553.84,174.91ZM530.50,171.47L532.07,172.37L532.07,174.18L530.50,175.09L528.93,174.18L528.93,172.37ZM536.36,171.47L537.93,172.37L537.93,174.18L536.36,175.09L534.79,174.18L534.79,172.37ZM539.29,171.47L540.86,172.37L540.86,174.18L539.29,175.09L537.72,174.18L537.72,172.37ZM542.22,171.47L543.79,172.37L543.79,174.18L542.22,175.09L540.65,174.18L540.65,172.37ZM548.08,171.47L549.65,172.37L549.65,174.18L548.08,175.09L546.51,174.18L546.51,172.37ZM551.01,171.47L552.58,172.37L552.58,174.18L551.01,175.09L549.44,174.18L549.44,172.37ZM553.94,171.47L555.51,172.37L555.51,174.18L553.94,175.09L552.37,174.18L552.37,172.37ZM556.87,171.47L558.44,172.37L558.44,174.18L556.87,175.09L555.30,174.18L555.30,172.37ZM534.89,168.93L536.46,169.83L536.46,171.64L534.89,172.55L533.33,171.64L533.33,169.83ZM537.83,168.93L539.39,169.83L539.39,171.64L537.83,172.55L536.26,171.64L536.26,169.83ZM540.75,168.93L542.32,169.83L542.32,171.64L540.75,172.55L539.19,171.64L539.19,169.83ZM543.69,168.93L545.25,169.83L545.25,171.64L543.69,172.55L542.12,171.64L542.12,169.83ZM552.48,168.93L554.04,169.83L554.04,171.64L552.48,172.55L550.91,171.64L550.91,169.83ZM555.41,168.93L556.97,169.83L556.97,171.64L555.41,172.55L553.84,171.64L553.84,169.83ZM558.34,168.93L559.90,169.83L559.90,171.64L558.34,172.55L556.77,171.64L556.77,169.83ZM539.29,166.39L540.86,167.30L540.86,169.11L539.29,170.01L537.72,169.11L537.72,167.30ZM542.22,166.39L543.79,167.30L543.79,169.11L542.22,170.01L540.65,169.11L540.65,167.30ZM545.15,166.39L546.72,167.30L546.72,169.11L545.15,170.01L543.58,169.11L543.58,167.30ZM553.94,166.39L555.51,167.30L555.51,169.11L553.94,170.01L552.37,169.11L552.37,167.30ZM556.87,166.39L558.44,167.30L558.44,169.11L556.87,170.01L555.30,169.11L555.30,167.30ZM559.80,166.39L561.37,167.30L561.37,169.11L559.80,170.01L558.23,169.11L558.23,167.30ZM562.73,166.39L564.30,167.30L564.30,169.11L562.73,170.01L561.16,169.11L561.16,167.30ZM565.66,166.39L567.23,167.30L567.23,169.11L565.66,170.01L564.09,169.11L564.09,167.30ZM540.75,163.85L542.32,164.76L542.32,166.57L540.75,167.47L539.19,166.57L539.19,164.76ZM543.69,163.85L545.25,164.76L545.25,166.57L543.69,167.47L542.12,166.57L542.12,164.76ZM546.62,163.85L548.18,164.76L548.18,166.57L546.62,167.47L545.05,166.57L545.05,164.76ZM549.55,163.85L551.11,164.76L551.11,166.57L549.55,167.47L547.98,166.57L547.98,164.76ZM558.34,163.85L559.90,164.76L559.90,166.57L558.34,167.47L556.77,166.57L556.77,164.76ZM561.26,163.85L562.83,164.76L562.83,166.57L561.26,167.47L559.70,166.57L559.70,164.76ZM564.20,163.85L565.76,164.76L565.76,166.57L564.20,167.47L562.63,166.57L562.63,164.76ZM570.06,163.85L571.62,164.76L571.62,166.57L570.06,167.47L568.49,166.57L568.49,164.76ZM542.22,161.32L543.79,162.22L543.79,164.03L542.22,164.94L540.65,164.03L540.65,162.22ZM545.15,161.32L546.72,162.22L546.72,164.03L545.15,164.94L543.58,164.03L543.58,162.22ZM548.08,161.32L549.65,162.22L549.65,164.03L548.08,164.94L546.51,164.03L546.51,162.22ZM551.01,161.32L552.58,162.22L552.58,164.03L551.01,164.94L549.44,164.03L549.44,162.22ZM559.80,161.32L561.37,162.22L561.37,164.03L559.80,164.94L558.23,164.03L558.23,162.22ZM562.73,161.32L564.30,162.22L564.30,164.03L562.73,164.94L561.16,164.03L561.16,162.22ZM565.66,161.32L567.23,162.22L567.23,164.03L565.66,164.94L564.09,164.03L564.09,162.22ZM568.59,161.32L570.16,162.22L570.16,164.03L568.59,164.94L567.02,164.03L567.02,162.22ZM546.62,158.78L548.18,159.68L548.18,161.49L546.62,162.40L545.05,161.49L545.05,159.68ZM549.55,158.78L551.11,159.68L551.11,161.49L549.55,162.40L547.98,161.49L547.98,159.68ZM552.48,158.78L554.04,159.68L554.04,161.49L552.48,162.40L550.91,161.49L550.91,159.68ZM561.26,158.78L562.83,159.68L562.83,161.49L561.26,162.40L559.70,161.49L559.70,159.68ZM564.20,158.78L565.76,159.68L565.76,161.49L564.20,162.40L562.63,161.49L562.63,159.68ZM567.12,158.78L568.69,159.68L568.69,161.49L567.12,162.40L565.56,161.49L565.56,159.68ZM545.15,156.24L546.72,157.15L546.72,158.96L545.15,159.86L543.58,158.96L543.58,157.15ZM548.08,156.24L549.65,157.15L549.65,158.96L548.08,159.86L546.51,158.96L546.51,157.15ZM551.01,156.24L552.58,157.15L552.58,158.96L551.01,159.86L549.44,158.96L549.44,157.15ZM553.94,156.24L555.51,157.15L555.51,158.96L553.94,159.86L552.37,158.96L552.37,157.15ZM556.87,156.24L558.44,157.15L558.44,158.96L556.87,159.86L555.30,158.96L555.30,157.15ZM565.66,156.24L567.23,157.15L567.23,158.96L565.66,159.86L564.09,158.96L564.09,157.15ZM568.59,156.24L570.16,157.15L570.16,158.96L568.59,159.86L567.02,158.96L567.02,157.15ZM546.62,153.70L548.18,154.61L548.18,156.42L546.62,157.32L545.05,156.42L545.05,154.61ZM549.55,153.70L551.11,154.61L551.11,156.42L549.55,157.32L547.98,156.42L547.98,154.61ZM552.48,153.70L554.04,154.61L554.04,156.42L552.48,157.32L550.91,156.42L550.91,154.61ZM555.41,153.70L556.97,154.61L556.97,156.42L555.41,157.32L553.84,156.42L553.84,154.61ZM558.34,153.70L559.90,154.61L559.90,156.42L558.34,157.32L556.77,156.42L556.77,154.61ZM567.12,153.70L568.69,154.61L568.69,156.42L567.12,157.32L565.56,156.42L565.56,154.61ZM548.08,151.17L549.65,152.07L549.65,153.88L548.08,154.79L546.51,153.88L546.51,152.07ZM551.01,151.17L552.58,152.07L552.58,153.88L551.01,154.79L549.44,153.88L549.44,152.07ZM553.94,151.17L555.51,152.07L555.51,153.88L553.94,154.79L552.37,153.88L552.37,152.07ZM559.80,151.17L561.37,152.07L561.37,153.88L559.80,154.79L558.23,153.88L558.23,152.07ZM562.73,151.17L564.30,152.07L564.30,153.88L562.73,154.79L561.16,153.88L561.16,152.07ZM568.59,151.17L570.16,152.07L570.16,153.88L568.59,154.79L567.02,153.88L567.02,152.07ZM574.45,151.17L576.02,152.07L576.02,153.88L574.45,154.79L572.88,153.88L572.88,152.07ZM555.41,148.63L556.97,149.53L556.97,151.34L555.41,152.25L553.84,151.34L553.84,149.53ZM561.26,148.63L562.83,149.53L562.83,151.34L561.26,152.25L559.70,151.34L559.70,149.53ZM564.20,148.63L565.76,149.53L565.76,151.34L564.20,152.25L562.63,151.34L562.63,149.53ZM572.99,148.63L574.55,149.53L574.55,151.34L572.99,152.25L571.42,151.34L571.42,149.53ZM575.92,148.63L577.48,149.53L577.48,151.34L575.92,152.25L574.35,151.34L574.35,149.53ZM553.94,146.09L555.51,147.00L555.51,148.81L553.94,149.71L552.37,148.81L552.37,147.00ZM559.80,146.09L561.37,147.00L561.37,148.81L559.80,149.71L558.23,148.81L558.23,147.00ZM562.73,146.09L564.30,147.00L564.30,148.81L562.73,149.71L561.16,148.81L561.16,147.00ZM565.66,146.09L567.23,147.00L567.23,148.81L565.66,149.71L564.09,148.81L564.09,147.00ZM568.59,146.09L570.16,147.00L570.16,148.81L568.59,149.71L567.02,148.81L567.02,147.00ZM571.52,146.09L573.09,147.00L573.09,148.81L571.52,149.71L569.95,148.81L569.95,147.00ZM574.45,146.09L576.02,147.00L576.02,148.81L574.45,149.71L572.88,148.81L572.88,147.00ZM577.38,146.09L578.95,147.00L578.95,148.81L577.38,149.71L575.81,148.81L575.81,147.00ZM552.48,143.55L554.04,144.46L554.04,146.27L552.48,147.17L550.91,146.27L550.91,144.46ZM564.20,143.55L565.76,144.46L565.76,146.27L564.20,147.17L562.63,146.27L562.63,144.46ZM567.12,143.55L568.69,144.46L568.69,146.27L567.12,147.17L565.56,146.27L565.56,144.46ZM570.06,143.55L571.62,144.46L571.62,146.27L570.06,147.17L568.49,146.27L568.49,144.46ZM572.99,143.55L574.55,144.46L574.55,146.27L572.99,147.17L571.42,146.27L571.42,144.46ZM575.92,143.55L577.48,144.46L577.48,146.27L575.92,147.17L574.35,146.27L574.35,144.46ZM578.85,143.55L580.41,144.46L580.41,146.27L578.85,147.17L577.28,146.27L577.28,144.46ZM571.52,141.02L573.09,141.92L573.09,143.73L571.52,144.64L569.95,143.73L569.95,141.92ZM574.45,141.02L576.02,141.92L576.02,143.73L574.45,144.64L572.88,143.73L572.88,141.92ZM577.38,141.02L578.95,141.92L578.95,143.73L577.38,144.64L575.81,143.73L575.81,141.92ZM580.31,141.02L581.88,141.92L581.88,143.73L580.31,144.64L578.74,143.73L578.74,141.92ZM583.24,141.02L584.81,141.92L584.81,143.73L583.24,144.64L581.67,143.73L581.67,141.92ZM570.06,138.48L571.62,139.38L571.62,141.19L570.06,142.10L568.49,141.19L568.49,139.38ZM572.99,138.48L574.55,139.38L574.55,141.19L572.99,142.10L571.42,141.19L571.42,139.38ZM575.92,138.48L577.48,139.38L577.48,141.19L575.92,142.10L574.35,141.19L574.35,139.38ZM578.85,138.48L580.41,139.38L580.41,141.19L578.85,142.10L577.28,141.19L577.28,139.38ZM581.77,138.48L583.34,139.38L583.34,141.19L581.77,142.10L580.21,141.19L580.21,139.38ZM584.71,138.48L586.27,139.38L586.27,141.19L584.71,142.10L583.14,141.19L583.14,139.38ZM568.59,135.94L570.16,136.85L570.16,138.66L568.59,139.56L567.02,138.66L567.02,136.85ZM571.52,135.94L573.09,136.85L573.09,138.66L571.52,139.56L569.95,138.66L569.95,136.85ZM577.38,135.94L578.95,136.85L578.95,138.66L577.38,139.56L575.81,138.66L575.81,136.85ZM580.31,135.94L581.88,136.85L581.88,138.66L580.31,139.56L578.74,138.66L578.74,136.85ZM583.24,135.94L584.81,136.85L584.81,138.66L583.24,139.56L581.67,138.66L581.67,136.85ZM586.17,135.94L587.74,136.85L587.74,138.66L586.17,139.56L584.60,138.66L584.60,136.85ZM567.12,133.40L568.69,134.31L568.69,136.12L567.12,137.02L565.56,136.12L565.56,134.31ZM572.99,133.40L574.55,134.31L574.55,136.12L572.99,137.02L571.42,136.12L571.42,134.31ZM578.85,133.40L580.41,134.31L580.41,136.12L578.85,137.02L577.28,136.12L577.28,134.31ZM581.77,133.40L583.34,134.31L583.34,136.12L581.77,137.02L580.21,136.12L580.21,134.31ZM584.71,133.40L586.27,134.31L586.27,136.12L584.71,137.02L583.14,136.12L583.14,134.31ZM587.63,133.40L589.20,134.31L589.20,136.12L587.63,137.02L586.07,136.12L586.07,134.31ZM577.38,130.87L578.95,131.77L578.95,133.58L577.38,134.49L575.81,133.58L575.81,131.77ZM580.31,130.87L581.88,131.77L581.88,133.58L580.31,134.49L578.74,133.58L578.74,131.77ZM583.24,130.87L584.81,131.77L584.81,133.58L583.24,134.49L581.67,133.58L581.67,131.77ZM586.17,130.87L587.74,131.77L587.74,133.58L586.17,134.49L584.60,133.58L584.60,131.77ZM589.10,130.87L590.67,131.77L590.67,133.58L589.10,134.49L587.53,133.58L587.53,131.77ZM581.77,128.33L583.34,129.23L583.34,131.04L581.77,131.95L580.21,131.04L580.21,129.23ZM584.71,128.33L586.27,129.23L586.27,131.04L584.71,131.95L583.14,131.04L583.14,129.23ZM587.63,128.33L589.20,129.23L589.20,131.04L587.63,131.95L586.07,131.04L586.07,129.23ZM590.57,128.33L592.13,129.23L592.13,131.04L590.57,131.95L589.00,131.04L589.00,129.23ZM586.17,125.79L587.74,126.70L587.74,128.51L586.17,129.41L584.60,128.51L584.60,126.70ZM589.10,125.79L590.67,126.70L590.67,128.51L589.10,129.41L587.53,128.51L587.53,126.70ZM592.03,125.79L593.60,126.70L593.60,128.51L592.03,129.41L590.46,128.51L590.46,126.70ZM587.63,123.25L589.20,124.16L589.20,125.97L587.63,126.87L586.07,125.97L586.07,124.16ZM590.57,123.25L592.13,124.16L592.13,125.97L590.57,126.87L589.00,125.97L589.00,124.16ZM593.50,123.25L595.06,124.16L595.06,125.97L593.50,126.87L591.93,125.97L591.93,124.16ZM596.43,123.25L597.99,124.16L597.99,125.97L596.43,126.87L594.86,125.97L594.86,124.16ZM589.10,120.72L590.67,121.62L590.67,123.43L589.10,124.34L587.53,123.43L587.53,121.62ZM592.03,120.72L593.60,121.62L593.60,123.43L592.03,124.34L590.46,123.43L590.46,121.62ZM594.96,120.72L596.53,121.62L596.53,123.43L594.96,124.34L593.39,123.43L593.39,121.62ZM597.89,120.72L599.46,121.62L599.46,123.43L597.89,124.34L596.32,123.43L596.32,121.62ZM593.50,118.18L595.06,119.08L595.06,120.89L593.50,121.80L591.93,120.89L591.93,119.08ZM596.43,118.18L597.99,119.08L597.99,120.89L596.43,121.80L594.86,120.89L594.86,119.08ZM599.36,118.18L600.92,119.08L600.92,120.89L599.36,121.80L597.79,120.89L597.79,119.08ZM602.29,118.18L603.85,119.08L603.85,120.89L602.29,121.80L600.72,120.89L600.72,119.08ZM594.96,115.64L596.53,116.55L596.53,118.36L594.96,119.26L593.39,118.36L593.39,116.55ZM597.89,115.64L599.46,116.55L599.46,118.36L597.89,119.26L596.32,118.36L596.32,116.55ZM600.82,115.64L602.39,116.55L602.39,118.36L600.82,119.26L599.25,118.36L599.25,116.55ZM593.50,113.10L595.06,114.01L595.06,115.82L593.50,116.72L591.93,115.82L591.93,114.01ZM596.43,113.10L597.99,114.01L597.99,115.82L596.43,116.72L594.86,115.82L594.86,114.01ZM599.36,113.10L600.92,114.01L600.92,115.82L599.36,116.72L597.79,115.82L597.79,114.01ZM602.29,113.10L603.85,114.01L603.85,115.82L602.29,116.72L600.72,115.82L600.72,114.01ZM605.22,113.10L606.78,114.01L606.78,115.82L605.22,116.72L603.65,115.82L603.65,114.01ZM594.96,110.57L596.53,111.47L596.53,113.28L594.96,114.19L593.39,113.28L593.39,111.47ZM597.89,110.57L599.46,111.47L599.46,113.28L597.89,114.19L596.32,113.28L596.32,111.47ZM600.82,110.57L602.39,111.47L602.39,113.28L600.82,114.19L599.25,113.28L599.25,111.47ZM603.75,110.57L605.32,111.47L605.32,113.28L603.75,114.19L602.18,113.28L602.18,111.47ZM606.68,110.57L608.25,111.47L608.25,113.28L606.68,114.19L605.11,113.28L605.11,111.47ZM612.54,110.57L614.11,111.47L614.11,113.28L612.54,114.19L610.97,113.28L610.97,111.47ZM596.43,108.03L597.99,108.93L597.99,110.74L596.43,111.65L594.86,110.74L594.86,108.93ZM599.36,108.03L600.92,108.93L600.92,110.74L599.36,111.65L597.79,110.74L597.79,108.93ZM602.29,108.03L603.85,108.93L603.85,110.74L602.29,111.65L600.72,110.74L600.72,108.93ZM605.22,108.03L606.78,108.93L606.78,110.74L605.22,111.65L603.65,110.74L603.65,108.93ZM608.15,108.03L609.71,108.93L609.71,110.74L608.15,111.65L606.58,110.74L606.58,108.93ZM611.08,108.03L612.64,108.93L612.64,110.74L611.08,111.65L609.51,110.74L609.51,108.93ZM603.75,105.49L605.32,106.40L605.32,108.21L603.75,109.11L602.18,108.21L602.18,106.40ZM606.68,105.49L608.25,106.40L608.25,108.21L606.68,109.11L605.11,108.21L605.11,106.40ZM609.61,105.49L611.18,106.40L611.18,108.21L609.61,109.11L608.04,108.21L608.04,106.40ZM612.54,105.49L614.11,106.40L614.11,108.21L612.54,109.11L610.97,108.21L610.97,106.40ZM614.00,102.95L615.57,103.86L615.57,105.67L614.00,106.57L612.44,105.67L612.44,103.86ZM616.94,102.95L618.50,103.86L618.50,105.67L616.94,106.57L615.37,105.67L615.37,103.86ZM615.47,100.42L617.04,101.32L617.04,103.13L615.47,104.04L613.90,103.13L613.90,101.32ZM618.40,100.42L619.97,101.32L619.97,103.13L618.40,104.04L616.83,103.13L616.83,101.32ZM616.94,97.88L618.50,98.78L618.50,100.59L616.94,101.50L615.37,100.59L615.37,98.78ZM619.87,97.88L621.43,98.78L621.43,100.59L619.87,101.50L618.30,100.59L618.30,98.78ZM618.40,95.34L619.97,96.25L619.97,98.06L618.40,98.96L616.83,98.06L616.83,96.25Z" fill="#4b0057"/>
<path d="M531.97,184.15L533.53,185.06L533.53,186.87L531.97,187.77L530.40,186.87L530.40,185.06ZM537.83,179.08L539.39,179.98L539.39,181.79L537.83,182.70L536.26,181.79L536.26,179.98ZM539.29,176.54L540.86,177.45L540.86,179.26L539.29,180.16L537.72,179.26L537.72,177.45ZM543.69,174.00L545.25,174.91L545.25,176.72L543.69,177.62L542.12,176.72L542.12,174.91ZM545.15,171.47L546.72,172.37L546.72,174.18L545.15,175.09L543.58,174.18L543.58,172.37ZM546.62,168.93L548.18,169.83L548.18,171.64L546.62,172.55L545.05,171.64L545.05,169.83ZM551.01,166.39L552.58,167.30L552.58,169.11L551.01,170.01L549.44,169.11L549.44,167.30ZM552.48,163.85L554.04,164.76L554.04,166.57L552.48,167.47L550.91,166.57L550.91,164.76ZM558.34,158.78L559.90,159.68L559.90,161.49L558.34,162.40L556.77,161.49L556.77,159.68ZM559.80,156.24L561.37,157.15L561.37,158.96L559.80,159.86L558.23,158.96L558.23,157.15ZM565.66,151.17L567.23,152.07L567.23,153.88L565.66,154.79L564.09,153.88L564.09,152.07ZM567.12,148.63L568.69,149.53L568.69,151.34L567.12,152.25L565.56,151.34L565.56,149.53Z" fill="#3b4a8e" stroke="#3b4a8e" stroke-width="0.6"/>
<path d="M534.89,184.15L536.46,185.06L536.46,186.87L534.89,187.77L533.33,186.87L533.33,185.06ZM533.43,181.62L535.00,182.52L535.00,184.33L533.43,185.24L531.86,184.33L531.86,182.52ZM536.36,181.62L537.93,182.52L537.93,184.33L536.36,185.24L534.79,184.33L534.79,182.52ZM542.22,176.54L543.79,177.45L543.79,179.26L542.22,180.16L540.65,179.26L540.65,177.45ZM540.75,174.00L542.32,174.91L542.32,176.72L540.75,177.62L539.19,176.72L539.19,174.91ZM549.55,168.93L551.11,169.83L551.11,171.64L549.55,172.55L547.98,171.64L547.98,169.83ZM548.08,166.39L549.65,167.30L549.65,169.11L548.08,170.01L546.51,169.11L546.51,167.30ZM555.41,163.85L556.97,164.76L556.97,166.57L555.41,167.47L553.84,166.57L553.84,164.76ZM553.94,161.32L555.51,162.22L555.51,164.03L553.94,164.94L552.37,164.03L552.37,162.22ZM556.87,161.32L558.44,162.22L558.44,164.03L556.87,164.94L555.30,164.03L555.30,162.22ZM555.41,158.78L556.97,159.68L556.97,161.49L555.41,162.40L553.84,161.49L553.84,159.68ZM562.73,156.24L564.30,157.15L564.30,158.96L562.73,159.86L561.16,158.96L561.16,157.15ZM561.26,153.70L562.83,154.61L562.83,156.42L561.26,157.32L559.70,156.42L559.70,154.61ZM564.20,153.70L565.76,154.61L565.76,156.42L564.20,157.32L562.63,156.42L562.63,154.61ZM570.06,148.63L571.62,149.53L571.62,151.34L570.06,152.25L568.49,151.34L568.49,149.53Z" fill="#4e2279" stroke="#4e2279" stroke-width="0.6"/>
<path d="M538.60,178.69L540.17,179.59L540.17,181.41L538.60,182.31L537.03,181.41L537.03,179.59Z" fill="#ffe600" stroke="#ffe600" stroke-width="0.5"/>
<path d="M545.00,170.99L546.57,171.89L546.57,173.71L545.00,174.61L543.43,173.71L543.43,171.89Z" fill="#ffe600" stroke="#ffe600" stroke-width="0.5"/>
<path d="M546.80,168.09L548.37,168.99L548.37,170.81L546.80,171.71L545.23,170.81L545.23,168.99Z" fill="#57d436" stroke="#57d436" stroke-width="0.5"/>
<path d="M539.60,176.29L541.17,177.19L541.17,179.01L539.60,179.91L538.03,179.01L538.03,177.19Z" fill="#57d436" stroke="#57d436" stroke-width="0.5"/>
<path d="M548.30,166.59L549.87,167.49L549.87,169.31L548.30,170.21L546.73,169.31L546.73,167.49Z" fill="#00c268" stroke="#00c268" stroke-width="0.5"/>
<path d="M541.00,174.99L542.57,175.89L542.57,177.71L541.00,178.61L539.43,177.71L539.43,175.89Z" fill="#00c268" stroke="#00c268" stroke-width="0.5"/>
<path d="M551.20,165.69L552.77,166.59L552.77,168.41L551.20,169.31L549.63,168.41L549.63,166.59Z" fill="#00948d" stroke="#00948d" stroke-width="0.5"/>
<path d="M552.60,163.19L554.17,164.09L554.17,165.91L552.60,166.81L551.03,165.91L551.03,164.09Z" fill="#00948d" stroke="#00948d" stroke-width="0.5"/>
<path d="M536.70,181.59L538.27,182.49L538.27,184.31L536.70,185.21L535.13,184.31L535.13,182.49Z" fill="#00948d" stroke="#00948d" stroke-width="0.5"/>
<path d="M542.50,173.69L544.07,174.59L544.07,176.41L542.50,177.31L540.93,176.41L540.93,174.59Z" fill="#00948d" stroke="#00948d" stroke-width="0.5"/>
<path d="M554.60,160.79L556.17,161.69L556.17,163.51L554.60,164.41L553.03,163.51L553.03,161.69Z" fill="#136a92" stroke="#136a92" stroke-width="0.5"/>
<path d="M558.00,157.39L559.57,158.29L559.57,160.11L558.00,161.01L556.43,160.11L556.43,158.29Z" fill="#136a92" stroke="#136a92" stroke-width="0.5"/>
<path d="M534.70,183.59L536.27,184.49L536.27,186.31L534.70,187.21L533.13,186.31L533.13,184.49Z" fill="#136a92" stroke="#136a92" stroke-width="0.5"/>
<path d="M560.90,154.49L562.47,155.39L562.47,157.21L560.90,158.11L559.33,157.21L559.33,155.39Z" fill="#3b4a8e" stroke="#3b4a8e" stroke-width="0.5"/>
<path d="M563.80,152.09L565.37,152.99L565.37,154.81L563.80,155.71L562.23,154.81L562.23,152.99Z" fill="#3b4a8e" stroke="#3b4a8e" stroke-width="0.5"/>
<path d="M533.00,185.19L534.57,186.09L534.57,187.91L533.00,188.81L531.43,187.91L531.43,186.09Z" fill="#3b4a8e" stroke="#3b4a8e" stroke-width="0.5"/>
<line x1="523.3" y1="196.0" x2="684.5" y2="34.55" stroke="#111" stroke-width="0.75"/>
<rect x="523.3" y="34.55" width="161.20" height="161.45" fill="none" stroke="#333" stroke-width="1"/>
<line x1="519.20" y1="188.50" x2="523.00" y2="188.50" stroke="#333" stroke-width="1"/>
<line x1="530.50" y1="196.3" x2="530.50" y2="199.8" stroke="#333" stroke-width="1"/>
<text x="516.00" y="192.40" font-size="11" fill="#4D4D4D" text-anchor="end">0</text>
<text x="530.50" y="211" font-size="11" fill="#4D4D4D" text-anchor="middle">0</text>
<line x1="519.20" y1="155.85" x2="523.00" y2="155.85" stroke="#333" stroke-width="1"/>
<line x1="563.15" y1="196.3" x2="563.15" y2="199.8" stroke="#333" stroke-width="1"/>
<text x="516.00" y="159.75" font-size="11" fill="#4D4D4D" text-anchor="end">50</text>
<text x="563.15" y="211" font-size="11" fill="#4D4D4D" text-anchor="middle">50</text>
<line x1="519.20" y1="123.20" x2="523.00" y2="123.20" stroke="#333" stroke-width="1"/>
<line x1="595.80" y1="196.3" x2="595.80" y2="199.8" stroke="#333" stroke-width="1"/>
<text x="516.00" y="127.10" font-size="11" fill="#4D4D4D" text-anchor="end">100</text>
<text x="595.80" y="211" font-size="11" fill="#4D4D4D" text-anchor="middle">100</text>
<line x1="519.20" y1="90.55" x2="523.00" y2="90.55" stroke="#333" stroke-width="1"/>
<line x1="628.45" y1="196.3" x2="628.45" y2="199.8" stroke="#333" stroke-width="1"/>
<text x="516.00" y="94.45" font-size="11" fill="#4D4D4D" text-anchor="end">150</text>
<text x="628.45" y="211" font-size="11" fill="#4D4D4D" text-anchor="middle">150</text>
<line x1="519.20" y1="57.90" x2="523.00" y2="57.90" stroke="#333" stroke-width="1"/>
<line x1="661.10" y1="196.3" x2="661.10" y2="199.8" stroke="#333" stroke-width="1"/>
<text x="516.00" y="61.80" font-size="11" fill="#4D4D4D" text-anchor="end">200</text>
<text x="661.10" y="211" font-size="11" fill="#4D4D4D" text-anchor="middle">200</text>
<text x="603.9" y="227.4" font-size="14" text-anchor="middle" fill="#000">2020 Census Block</text>
<text x="603.9" y="242.1" font-size="14" text-anchor="middle" fill="#000">Total Housing Units</text>
<text transform="translate(490.90,115.48) rotate(-90)" x="0" y="0" font-size="14.15" text-anchor="middle" fill="#000"># of residential buildings</text>
<text x="529.5" y="45.5" font-size="8" fill="#000" stroke="#000" stroke-width="0.15">R<tspan x="535.40" font-size="5.6" dy="-3.6">2</tspan><tspan x="539.80" dy="3.6" font-size="7.6">=</tspan><tspan x="545.80">0.95</tspan></text>
<text x="529.5" y="59.75" font-size="8" fill="#000" stroke="#000" stroke-width="0.15">8,172 blocks</text>
<text x="529.5" y="74.0" font-size="8" fill="#000" stroke="#000" stroke-width="0.15">219,239 units</text>
<text x="529.5" y="88.25" font-size="8" fill="#000" stroke="#000" stroke-width="0.15">225,617 buildings</text>
<text x="525" y="276.7" font-size="11" fill="#000">Count</text>
<rect x="562.2" y="267.8" width="122.00" height="10.8" fill="url(#g2)"/>
<line x1="595.50" y1="267.8" x2="595.50" y2="278.6" stroke="#fff" stroke-width="0.9" opacity="0.6"/>
<text transform="translate(601.69,291.3) rotate(-45)" font-size="11.3" fill="#000" text-anchor="end">200</text>
<line x1="629.50" y1="267.8" x2="629.50" y2="278.6" stroke="#fff" stroke-width="0.9" opacity="0.6"/>
<text transform="translate(635.34,291.3) rotate(-45)" font-size="11.3" fill="#000" text-anchor="end">400</text>
<line x1="662.50" y1="267.8" x2="662.50" y2="278.6" stroke="#fff" stroke-width="0.9" opacity="0.6"/>
<text transform="translate(669.00,291.3) rotate(-45)" font-size="11.3" fill="#000" text-anchor="end">600</text>
</svg></body></html>
